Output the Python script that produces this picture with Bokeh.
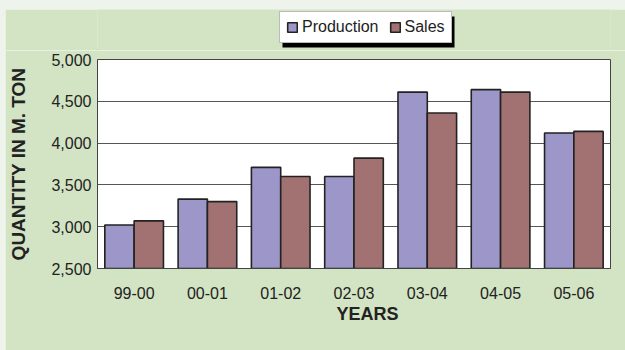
from bokeh.plotting import figure
from bokeh.models import (FactorRange, FixedTicker, NumeralTickFormatter, Legend,
                          LegendItem, BoxAnnotation, Title, ColumnDataSource,
                          Range1d)
from bokeh.transform import dodge
from bokeh.layouts import column
from bokeh.embed import file_html
from bokeh.resources import INLINE

# Yearly quantities in million tons
years = ["99-00", "00-01", "01-02", "02-03", "03-04", "04-05", "05-06"]
production = [3020, 3330, 3710, 3600, 4610, 4640, 4120]
sales = [3070, 3300, 3600, 3820, 4360, 4610, 4140]
y_ticks = [2500, 3000, 3500, 4000, 4500, 5000]
series_names = ["Production", "Sales"]

PANEL_GREEN = "#d2e4c3"
PAGE_LIGHT = "#eef4eb"
PROD_COLOR = "#9c96c9"
SALES_COLOR = "#a27272"
BAR_EDGE = "#222222"
TEXT = "#222222"
FONT = "Liberation Sans"

src = ColumnDataSource(dict(year=years, production=production, sales=sales))

# ---- main bar chart -------------------------------------------------------
p = figure(width=620, height=300, x_range=FactorRange(*years),
           y_range=(y_ticks[0], y_ticks[-1]),
           output_backend="svg", toolbar_location=None,
           min_border_left=92, min_border_right=15,
           min_border_top=9, min_border_bottom=82,
           margin=(0, 0, 0, 5))
p.x_range.range_padding = 0
p.border_fill_color = PANEL_GREEN
p.background_fill_color = "white"
p.outline_line_color = "#444444"

p.vbar(x=dodge("year", -0.2, range=p.x_range), top="production",
       bottom=y_ticks[0], width=0.4, source=src,
       fill_color=PROD_COLOR, line_color=BAR_EDGE, line_width=1.6)
p.vbar(x=dodge("year", 0.2, range=p.x_range), top="sales",
       bottom=y_ticks[0], width=0.4, source=src,
       fill_color=SALES_COLOR, line_color=BAR_EDGE, line_width=1.6)

p.yaxis.ticker = FixedTicker(ticks=y_ticks)
p.yaxis.formatter = NumeralTickFormatter(format="0,0")
p.yaxis.minor_tick_line_color = None
p.yaxis.major_tick_out = 0
p.yaxis.major_tick_in = 0
p.yaxis.major_label_standoff = 6
p.yaxis.axis_line_color = "#444444"
p.yaxis.axis_label = "QUANTITY IN M. TON"
p.yaxis.axis_label_standoff = 19
p.yaxis.axis_label_text_font = FONT
p.yaxis.axis_label_text_font_size = "19px"
p.yaxis.axis_label_text_font_style = "bold"
p.yaxis.axis_label_text_color = TEXT

for ax in (p.xaxis, p.yaxis):
    ax.major_label_text_font = FONT
    ax.major_label_text_font_size = "16px"
    ax.major_label_text_color = TEXT

p.xaxis.major_tick_out = 0
p.xaxis.major_tick_in = 0
p.xaxis.minor_tick_line_color = None
p.xaxis.major_label_standoff = 18
p.xaxis.axis_line_color = "#444444"

p.xgrid.grid_line_color = None
p.ygrid.grid_line_color = "#555555"
p.ygrid.grid_line_width = 1

# x axis title, set a little right of centre
p.add_layout(Title(text="YEARS", align="left", offset=239, standoff=0,
                   text_font=FONT, text_font_size="18px",
                   text_font_style="bold", text_color=TEXT), "below")

# ---- legend strip above the chart -------------------------------------------
lg = figure(width=620, height=41, output_backend="svg", toolbar_location=None,
            x_axis_type=None, y_axis_type=None,
            x_range=Range1d(0, 1), y_range=Range1d(0, 1),
            min_border=0, margin=(9, 0, 0, 5))
lg.border_fill_color = PANEL_GREEN
lg.background_fill_color = PANEL_GREEN
lg.outline_line_color = None
lg.grid.visible = False

# swatch renderers for the legend; their single bar lies outside the view
swatch_src = ColumnDataSource(dict(x=[-5], top=[-5]))
swatches = [lg.vbar(x="x", top="top", width=1, source=swatch_src,
                    fill_color=c, line_color=BAR_EDGE, line_width=1.6)
            for c in (PROD_COLOR, SALES_COLOR)]

# drop shadow behind the legend box
lg.add_layout(BoxAnnotation(left=185, right=357, top=34, bottom=3,
                            left_units="screen", right_units="screen",
                            top_units="screen", bottom_units="screen",
                            fill_color="black", fill_alpha=1.0,
                            line_color=None, level="underlay"))

legend = Legend(items=[LegendItem(label=n, renderers=[r])
                       for n, r in zip(series_names, swatches)],
                orientation="horizontal", location=(182, 7),
                label_text_font=FONT, label_text_font_size="16px",
                label_text_color=TEXT, glyph_width=12, glyph_height=12,
                label_height=16, padding=6, spacing=10, label_standoff=4,
                margin=0, border_line_color="#777777", border_line_width=1,
                background_fill_color="white", background_fill_alpha=1.0)
lg.add_layout(legend, "center")

page = column(lg, p, spacing=0, styles={"background-color": PAGE_LIGHT})

open("out.html", "w").write(file_html(page, INLINE))
